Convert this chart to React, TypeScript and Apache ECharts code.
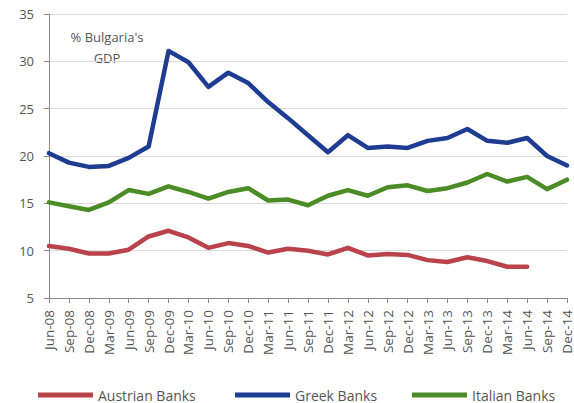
import React, { useEffect, useRef } from "react";
import * as echarts from "echarts";

const categories = [
  "Jun-08", "Sep-08", "Dec-08", "Mar-09", "Jun-09", "Sep-09", "Dec-09", "Mar-10", "Jun-10",
  "Sep-10", "Dec-10", "Mar-11", "Jun-11", "Sep-11", "Dec-11", "Mar-12", "Jun-12", "Sep-12",
  "Dec-12", "Mar-13", "Jun-13", "Sep-13", "Dec-13", "Mar-14", "Jun-14", "Sep-14", "Dec-14",
];

const austrian = [
  10.5, 10.2, 9.7, 9.7, 10.1, 11.5, 12.1, 11.4, 10.3, 10.8, 10.5, 9.8, 10.2, 10.0,
  9.6, 10.3, 9.5, 9.65, 9.55, 9.0, 8.8, 9.3, 8.9, 8.3, 8.3, null, null,
];

const greek = [
  20.3, 19.3, 18.85, 18.95, 19.8, 21.0, 31.1, 29.9, 27.3, 28.8, 27.7, 25.7, 24.0, 22.2,
  20.4, 22.2, 20.85, 21.0, 20.85, 21.6, 21.9, 22.85, 21.6, 21.4, 21.9, 20.0, 19.0,
];

const italian = [
  15.1, 14.7, 14.3, 15.1, 16.4, 16.0, 16.8, 16.2, 15.5, 16.2, 16.6, 15.3, 15.4, 14.8,
  15.8, 16.4, 15.8, 16.7, 16.9, 16.3, 16.6, 17.2, 18.1, 17.3, 17.8, 16.5, 17.5,
];

const seriesNames = ["Austrian Banks", "Greek Banks", "Italian Banks"];
const colors = ["#B9424B", "#1E3C92", "#4C8C26"];
const FONT = "'Open Sans', 'Liberation Sans', sans-serif";

export default function App() {
  const ref = useRef<HTMLDivElement>(null);
  useEffect(() => {
    if (!ref.current) return;
    const chart = echarts.init(ref.current, null, { renderer: "svg" });
    const data = [austrian, greek, italian];
    const legendLefts = [38, 235, 412];
    chart.setOption({
      animation: false,
      backgroundColor: "#ffffff",
      textStyle: { fontFamily: FONT },
      grid: { left: 49, right: 0, top: 14, bottom: 105, containLabel: false },
      legend: seriesNames.map((n, i) => ({
        data: [n],
        left: legendLefts[i],
        top: 388,
        padding: 0,
        icon: "rect",
        itemWidth: 55,
        itemHeight: 5,
        itemGap: 4,
        textStyle: { color: "#555", fontSize: 14, fontFamily: FONT, padding: [0, 0, 0, 0] },
      })),
      xAxis: {
        type: "category",
        data: categories,
        boundaryGap: false,
        axisLine: { lineStyle: { color: "#8a8a8a", width: 1 } },
        axisTick: { show: true, length: 5, interval: 0, lineStyle: { color: "#8a8a8a" } },
        axisLabel: {
          interval: 0,
          rotate: 90,
          margin: 12,
          color: "#555",
          fontSize: 13.5,
          fontFamily: FONT,
        },
        splitLine: { show: false },
      },
      yAxis: {
        type: "value",
        min: 5,
        max: 35,
        interval: 5,
        axisLine: { show: true, lineStyle: { color: "#8a8a8a", width: 1 } },
        axisTick: { show: true, length: 5, lineStyle: { color: "#8a8a8a" } },
        axisLabel: { color: "#555", fontSize: 13, margin: 15, fontFamily: FONT },
        splitLine: { show: true, lineStyle: { color: "#dcdcdc", width: 1 } },
      },
      graphic: [
        {
          type: "text",
          x: 107,
          y: 26,
          style: {
            text: "% Bulgaria's\nGDP",
            textAlign: "center",
            fill: "#555",
            fontSize: 13,
            lineHeight: 21,
            fontFamily: FONT,
          },
        },
      ],
      series: seriesNames.map((n, i) => ({
        name: n,
        type: "line",
        data: data[i],
        symbol: "none",
        connectNulls: false,
        color: colors[i],
        lineStyle: { color: colors[i], width: 4.5, join: "round", cap: "round" },
      })),
    });
    return () => chart.dispose();
  }, []);
  return (
    <div
      ref={ref}
      style={{ position: "fixed", left: 0, top: 0, width: 574, height: 403, background: "#fff" }}
    />
  );
}
